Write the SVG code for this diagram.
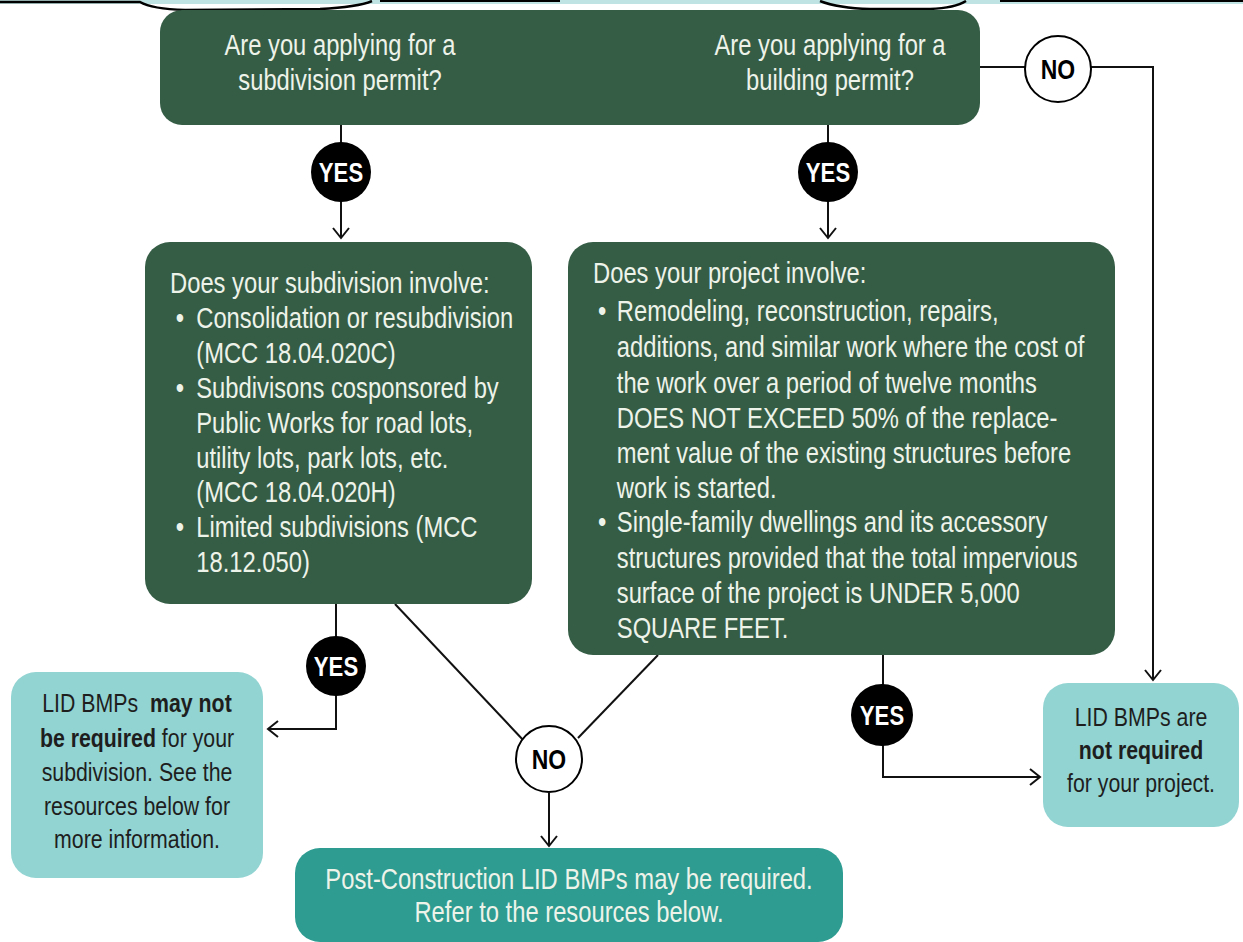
<svg xmlns="http://www.w3.org/2000/svg" width="1243" height="942" viewBox="0 0 1243 942">
<style>
.dark{fill:#355d46}
.light{fill:#92d4d2}
.mid{fill:#2e9c91}
.t{font-family:"Liberation Sans",Arial,sans-serif;font-size:29px;fill:#eef3ea}
.tl{font-family:"Liberation Sans",Arial,sans-serif;font-size:26px;fill:#1e1e1e}
.b{font-weight:bold}
.yes{fill:#000}
.yt{font-family:"Liberation Sans",Arial,sans-serif;font-size:27px;font-weight:bold;fill:#fff}
.no{fill:#fff;stroke:#000;stroke-width:2}
.nt{font-family:"Liberation Sans",Arial,sans-serif;font-size:28px;font-weight:bold;fill:#000}
.c{fill:none;stroke:#111;stroke-width:2}
</style>
<defs>
<marker id="arr" markerUnits="userSpaceOnUse" viewBox="-12 -10 14 20" refX="0" refY="0" markerWidth="14" markerHeight="20" orient="auto">
<path d="M-10,-8 L0,0 L-10,8" fill="none" stroke="#111" stroke-width="2"/>
</marker>
</defs>
<rect width="1243" height="942" fill="#fff"/>
<g id="border">
<path d="M0,0 H1243 V4 H0 Z" fill="#bfe3e2"/>
<path d="M0,2 L140,2 Q152,9 185,10 L320,9 Q358,7 372,1" fill="none" stroke="#000" stroke-width="2.5"/>
<path d="M380,1 L560,1" fill="none" stroke="#000" stroke-width="2"/>
<path d="M820,1 Q838,8 870,9 L930,9 Q955,8 966,1" fill="none" stroke="#000" stroke-width="2.5"/>
<path d="M1000,1 L1243,1" fill="none" stroke="#000" stroke-width="2"/>
</g>
<g id="connectors">
<path class="c" d="M341,125 V238" marker-end="url(#arr)"/>
<path class="c" d="M828,125 V238" marker-end="url(#arr)"/>
<path class="c" d="M980,67 H1153 V680" marker-end="url(#arr)"/>
<path class="c" d="M336,604 V729 H268" marker-end="url(#arr)"/>
<path class="c" d="M395,604 L525,742"/>
<path class="c" d="M658,655 L578,738"/>
<path class="c" d="M549,793 V846" marker-end="url(#arr)"/>
<path class="c" d="M883,655 V777 H1040" marker-end="url(#arr)"/>
</g>
<g id="q-top">
<rect class="dark" x="160" y="10" width="820" height="115" rx="22"/>
<g transform="translate(340,0) scale(0.82,1)"><text class="t" text-anchor="middle" x="0" y="55">Are you applying for a</text><text class="t" text-anchor="middle" x="0" y="90">subdivision permit?</text></g>
<g transform="translate(830,0) scale(0.82,1)"><text class="t" text-anchor="middle" x="0" y="55">Are you applying for a</text><text class="t" text-anchor="middle" x="0" y="90">building permit?</text></g>
</g>
<g id="no-top"><circle class="no" cx="1058" cy="69" r="33"/><g transform="translate(1058,0) scale(0.82,1)"><text class="nt" text-anchor="middle" x="0" y="79">NO</text></g></g>
<g id="yes-left-top"><circle class="yes" cx="341" cy="172" r="30"/><g transform="translate(341,0) scale(0.82,1)"><text class="yt" text-anchor="middle" x="0" y="182">YES</text></g></g>
<g id="yes-right-top"><circle class="yes" cx="828" cy="172" r="30"/><g transform="translate(828,0) scale(0.82,1)"><text class="yt" text-anchor="middle" x="0" y="182">YES</text></g></g>
<g id="q-subdivision">
<rect class="dark" x="145" y="242" width="387" height="362" rx="25"/>
<g transform="translate(170,0) scale(0.82,1)">
<text class="t" x="0" y="293">Does your subdivision involve:</text>
<text class="t" x="7" y="328">•</text><text class="t" x="32" y="328">Consolidation or resubdivision</text>
<text class="t" x="32" y="363">(MCC 18.04.020C)</text>
<text class="t" x="7" y="398">•</text><text class="t" x="32" y="398">Subdivisons cosponsored by</text>
<text class="t" x="32" y="433">Public Works for road lots,</text>
<text class="t" x="32" y="468">utility lots, park lots, etc.</text>
<text class="t" x="32" y="502">(MCC 18.04.020H)</text>
<text class="t" x="7" y="537">•</text><text class="t" x="32" y="537">Limited subdivisions (MCC</text>
<text class="t" x="32" y="572">18.12.050)</text>
</g>
</g>
<g id="q-project">
<rect class="dark" x="568" y="242" width="547" height="413" rx="25"/>
<g transform="translate(593,0) scale(0.82,1)">
<text class="t" x="0" y="283">Does your project involve:</text>
<text class="t" x="6" y="321">•</text><text class="t" x="29" y="321">Remodeling, reconstruction, repairs,</text>
<text class="t" x="29" y="357">additions, and similar work where the cost of</text>
<text class="t" x="29" y="393">the work over a period of twelve months</text>
<text class="t" x="29" y="428">DOES NOT EXCEED 50% of the replace-</text>
<text class="t" x="29" y="463">ment value of the existing structures before</text>
<text class="t" x="29" y="498">work is started.</text>
<text class="t" x="6" y="532">•</text><text class="t" x="29" y="532">Single-family dwellings and its accessory</text>
<text class="t" x="29" y="568">structures provided that the total impervious</text>
<text class="t" x="29" y="603">surface of the project is UNDER 5,000</text>
<text class="t" x="29" y="638">SQUARE FEET.</text>
</g>
</g>
<g id="yes-left"><circle class="yes" cx="336" cy="666" r="30"/><g transform="translate(336,0) scale(0.82,1)"><text class="yt" text-anchor="middle" x="0" y="676">YES</text></g></g>
<g id="no-bottom"><circle class="no" cx="549" cy="759" r="33"/><g transform="translate(549,0) scale(0.82,1)"><text class="nt" text-anchor="middle" x="0" y="769">NO</text></g></g>
<g id="yes-right"><circle class="yes" cx="882" cy="715" r="31"/><g transform="translate(882,0) scale(0.82,1)"><text class="yt" text-anchor="middle" x="0" y="725">YES</text></g></g>
<g id="r-may-not">
<rect class="light" x="11" y="672" width="252" height="206" rx="25"/>
<g transform="translate(137,0) scale(0.82,1)">
<text class="tl" text-anchor="middle" x="0" y="712" xml:space="preserve">LID BMPs  <tspan class="b">may not</tspan></text>
<text class="tl" text-anchor="middle" x="0" y="747"><tspan class="b">be required</tspan> for your</text>
<text class="tl" text-anchor="middle" x="0" y="781">subdivision. See the</text>
<text class="tl" text-anchor="middle" x="0" y="815">resources below for</text>
<text class="tl" text-anchor="middle" x="0" y="848">more information.</text>
</g>
</g>
<g id="r-not-required">
<rect class="light" x="1043" y="683" width="196" height="144" rx="25"/>
<g transform="translate(1141,0) scale(0.82,1)">
<text class="tl" text-anchor="middle" x="0" y="726">LID BMPs are</text>
<text class="tl b" text-anchor="middle" x="0" y="759">not required</text>
<text class="tl" text-anchor="middle" x="0" y="792">for your project.</text>
</g>
</g>
<g id="r-may-be">
<rect class="mid" x="295" y="848" width="548" height="94" rx="25"/>
<g transform="translate(569,0) scale(0.82,1)">
<text class="t" fill="#fff" text-anchor="middle" x="0" y="889">Post-Construction LID BMPs may be required.</text>
<text class="t" text-anchor="middle" x="0" y="922">Refer to the resources below.</text>
</g>
</g>
</svg>
